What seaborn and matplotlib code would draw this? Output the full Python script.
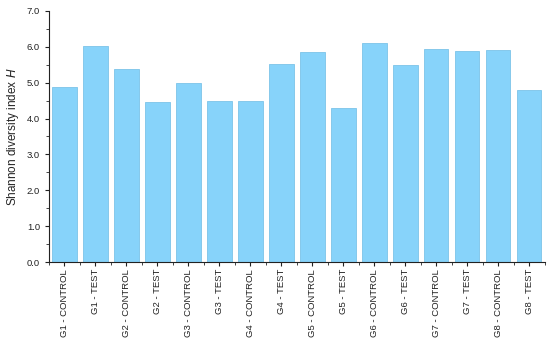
import matplotlib
matplotlib.use("Agg")
import matplotlib.pyplot as plt
import seaborn as sns
import pandas as pd
from matplotlib.ticker import MultipleLocator, FixedLocator

categories = ["G1 - CONTROL", "G1 - TEST", "G2 - CONTROL", "G2 - TEST",
              "G3 - CONTROL", "G3 - TEST", "G4 - CONTROL", "G4 - TEST",
              "G5 - CONTROL", "G5 - TEST", "G6 - CONTROL", "G6 - TEST",
              "G7 - CONTROL", "G7 - TEST", "G8 - CONTROL", "G8 - TEST"]
values = [4.89, 6.02, 5.38, 4.45, 4.98, 4.50, 4.50, 5.52,
          5.85, 4.29, 6.10, 5.48, 5.93, 5.88, 5.90, 4.79]

sns.set_style("ticks")
plt.rcParams['font.family'] = ['Liberation Sans', 'DejaVu Sans']

df = pd.DataFrame({"group": categories, "H": values})

fig = plt.figure(figsize=(5.5, 3.39), dpi=100)
ax = fig.add_axes([0.089, 0.227, 0.901, 0.741])
sns.barplot(data=df, x="group", y="H", color="#87D3FA", saturation=1,
            edgecolor="#7CC3E8", linewidth=0.6, width=0.8, ax=ax)

ax.set_ylim(0, 7)
ax.set_xlim(-0.5, len(categories) - 0.5)
ax.yaxis.set_major_locator(MultipleLocator(1))
ax.yaxis.set_minor_locator(MultipleLocator(0.5))
ax.set_yticklabels([f"{v:.1f}" for v in ax.get_yticks()])
ax.xaxis.set_minor_locator(FixedLocator([i + 0.5 for i in range(-1, len(categories))]))
ax.tick_params(axis="both", which="major", direction="out", length=3, width=0.8,
               labelsize=6.8, colors="#222222")
ax.tick_params(axis="both", which="minor", direction="out", length=2, width=0.6)
ax.tick_params(axis="x", labelrotation=90, pad=2)
ax.set_xlabel("")
ax.set_ylabel("Shannon diversity index $\\mathit{H}$", fontsize=8.5)
for s in ["top", "right"]:
    ax.spines[s].set_visible(False)
for s in ["left", "bottom"]:
    ax.spines[s].set_linewidth(0.8)
    ax.spines[s].set_color("#222222")

fig.savefig("out.png", dpi=100)
